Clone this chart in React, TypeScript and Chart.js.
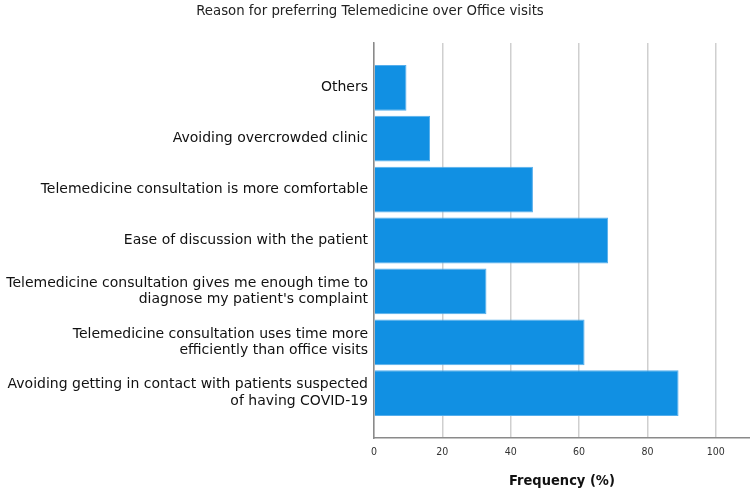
import React, { useEffect, useRef } from "react";
import { Chart, registerables } from "chart.js";

Chart.register(...registerables);

const chartTitle = "Reason for preferring Telemedicine over Office visits";
const axisTitle = "Frequency (%)";

const categories: string[][] = [
  ["Others"],
  ["Avoiding overcrowded clinic"],
  ["Telemedicine consultation is more comfortable"],
  ["Ease of discussion with the patient"],
  ["Telemedicine consultation gives me enough time to", "diagnose my patient's complaint"],
  ["Telemedicine consultation uses time more", "efficiently than office visits"],
  ["Avoiding getting in contact with patients suspected", "of having COVID-19"],
];

const frequency: number[] = [9.5, 16.4, 46.5, 68.5, 32.9, 61.6, 89.1];

const xTicks: number[] = [0, 20, 40, 60, 80, 100];

const FONT = "'DejaVu Sans', sans-serif";
const FONT_COND = "'DejaVu Sans Condensed', 'DejaVu Sans', sans-serif";

export default function App() {
  const canvasRef = useRef<HTMLCanvasElement | null>(null);

  useEffect(() => {
    const canvas = canvasRef.current;
    if (!canvas) return;
    const chart = new Chart(canvas, {
      type: "bar",
      data: {
        datasets: [
          {
            data: frequency.map((v, i) => ({ x: v, y: i })),
            backgroundColor: "#1190E3",
            borderColor: "#55AEEC",
            borderWidth: 1,
            barPercentage: 0.9,
            categoryPercentage: 1,
          },
        ],
      },
      options: {
        indexAxis: "y",
        animation: false,
        responsive: false,
        layout: { padding: { top: 43, right: 0, left: 0, bottom: 0 } },
        plugins: {
          legend: { display: false },
          tooltip: { enabled: false },
          title: { display: false },
        },
        scales: {
          x: {
            type: "linear",
            min: 0,
            max: 110,
            afterFit: (scale: any) => {
              scale.height = 56;
            },
            afterBuildTicks: (scale: any) => {
              scale.ticks = xTicks.map((v) => ({ value: v }));
            },
            ticks: {
              font: { family: FONT_COND, size: 10.5 },
              color: "#333",
              padding: 8,
              autoSkip: false,
              maxRotation: 0,
            },
            grid: {
              color: "#CFCFCF",
              lineWidth: 1.5,
              drawTicks: false,
            },
            border: { color: "#8A8A8A", width: 1.5 },
            title: {
              display: true,
              text: axisTitle,
              font: { family: FONT_COND, size: 14.5, weight: "bold" },
              color: "#111",
              padding: { top: 4, bottom: 4 },
            },
          },
          y: {
            type: "linear",
            reverse: true,
            offset: false,
            min: -0.88,
            max: 6.88,
            afterFit: (scale: any) => {
              scale.width = 374;
            },
            afterBuildTicks: (scale: any) => {
              scale.ticks = categories.map((_, i) => ({ value: i }));
            },
            ticks: {
              autoSkip: false,
              font: { family: FONT, size: 14, lineHeight: 1.2 },
              color: "#111",
              padding: 6,
              callback: (value: any) => categories[Number(value)] ?? "",
            },
            grid: { display: false, drawTicks: false },
            border: { color: "#8A8A8A", width: 1.5 },
          },
        },
      },
    } as any);
    return () => chart.destroy();
  }, []);

  return (
    <div style={{ position: "fixed", left: 0, top: 0, width: 750, height: 494, background: "#fff" }}>
      <canvas ref={canvasRef} width={750} height={494} style={{ display: "block" }} />
      <div
        style={{
          position: "absolute",
          top: 3,
          left: 370,
          transform: "translateX(-50%)",
          whiteSpace: "nowrap",
          fontFamily: FONT,
          fontSize: 13.3,
          color: "#222",
        }}
      >
        {chartTitle}
      </div>
    </div>
  );
}
